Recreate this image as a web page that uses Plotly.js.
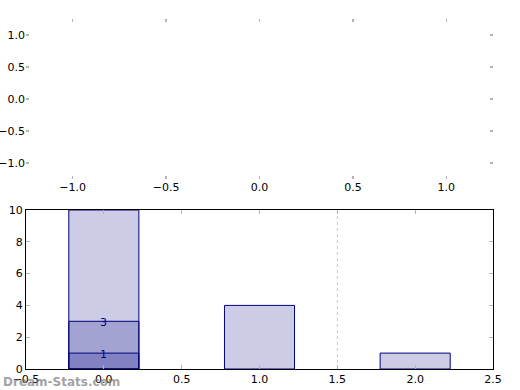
<!DOCTYPE html>
<html><head><meta charset="utf-8">
<script src="https://cdn.plot.ly/plotly-3.0.1.min.js"></script>
<style>html,body{margin:0;padding:0;background:#fff}#chart{width:520px;height:390px}</style>
</head><body><div id="chart"></div>
<script>
// Data
const barX = [0, 1, 2];
const barHeights = [10, 4, 1];
const overlayX = [0];
const overlayHeights1 = [3];
const overlayHeights2 = [1];
const labelX = [0, 0];
const labelY = [1, 3];
const labelText = ["1", "3"];
const refLineX = [1.5, 1.5];
const refLineY = [0, 10];
const topTicks = [-1.0, -0.5, 0.0, 0.5, 1.0];
const bottomXTicks = [-0.5, 0.0, 0.5, 1.0, 1.5, 2.0, 2.5];
const bottomYTicks = [0, 2, 4, 6, 8, 10];

const fill = 'rgba(0,0,128,0.2)';
const edge = '#000080';
const barStyle = {type:'bar', xaxis:'x2', yaxis:'y2', width:0.45,
  marker:{color:fill, line:{color:edge, width:1}}, hoverinfo:'none', showlegend:false};

const traces = [
  Object.assign({x:barX, y:barHeights}, barStyle),
  Object.assign({x:overlayX, y:overlayHeights1}, barStyle),
  Object.assign({x:overlayX, y:overlayHeights2}, barStyle),
  {type:'scatter', mode:'lines', x:refLineX, y:refLineY, xaxis:'x2', yaxis:'y2',
   line:{color:'#c8c8c8', width:1, dash:'dot'}, showlegend:false, hoverinfo:'none'},
  {type:'scatter', mode:'markers', x:[], y:[], xaxis:'x', yaxis:'y', showlegend:false}
];

const fmt = v => v.toFixed(1).replace('-','\u2212');
const tickFont = {family:'DejaVu Sans', size:11, color:'#000'};
const labelAnnotations = labelX.map((x, i) => ({xref:'x2', yref:'y2', x:x, y:labelY[i], text:labelText[i],
  showarrow:false, xanchor:'center', yanchor:'middle', yshift:-1,
  font:{family:'DejaVu Sans', size:11, color:edge}}));

const layout = {
  width:520, height:390,
  margin:{l:26, r:27, t:19, b:21},
  paper_bgcolor:'#fff', plot_bgcolor:'#fff',
  barmode:'overlay',
  font:{family:'DejaVu Sans', size:11, color:'#000'},
  xaxis:{domain:[0,1], anchor:'y', range:[-1.25,1.25], tickvals:topTicks, ticktext:topTicks.map(fmt),
    ticks:'inside', ticklen:3, tickcolor:'#b4b4b4', tickwidth:1.5, mirror:'ticks', showline:false,
    showgrid:false, zeroline:false, tickfont:tickFont, fixedrange:true},
  yaxis:{domain:[0.5429,1], anchor:'x', range:[-1.25,1.25], tickvals:topTicks, ticktext:topTicks.map(fmt),
    ticks:'inside', ticklen:3, tickcolor:'#b4b4b4', tickwidth:1.5, mirror:'ticks', showline:false,
    showgrid:false, zeroline:false, tickfont:tickFont, fixedrange:true},
  xaxis2:{domain:[0,1], anchor:'y2', range:[-0.5,2.5], tickvals:bottomXTicks, ticktext:bottomXTicks.map(fmt),
    ticks:'inside', ticklen:4, tickcolor:'#b4b4b4', tickwidth:1, mirror:'ticks', showline:true, linecolor:'#000', linewidth:1,
    showgrid:false, zeroline:false, tickfont:tickFont, fixedrange:true},
  yaxis2:{domain:[0,0.4543], anchor:'x2', range:[0,10], tickvals:bottomYTicks,
    ticks:'inside', ticklen:4, tickcolor:'#b4b4b4', tickwidth:1, mirror:'ticks', showline:true, linecolor:'#000', linewidth:1,
    showgrid:false, zeroline:false, tickfont:tickFont, fixedrange:true},
  annotations:labelAnnotations.concat([{xref:'paper', yref:'paper', x:-0.053, y:-0.062, xanchor:'left', yanchor:'bottom', showarrow:false,
    text:'<b>Dream-Stats.com</b>', font:{family:'DejaVu Sans', size:12, color:'rgba(120,120,120,0.7)'}}])
};
Plotly.newPlot('chart', traces, layout, {displayModeBar:false, staticPlot:true});
</script></body></html>
